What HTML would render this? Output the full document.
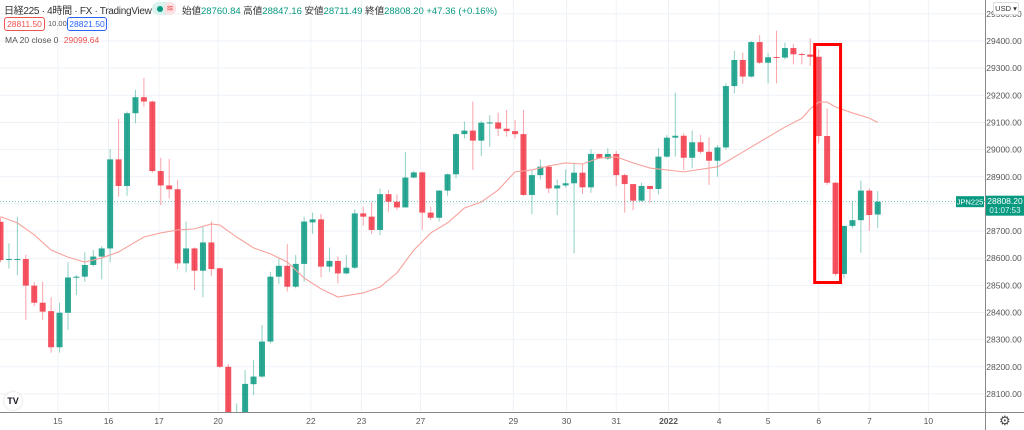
<!DOCTYPE html>
<html><head><meta charset="utf-8">
<style>
html,body{margin:0;padding:0;background:#fff;width:1024px;height:430px;overflow:hidden;font-family:"Liberation Sans","Noto Sans CJK JP",sans-serif;}
#wrap{position:relative;width:1024px;height:430px;}
svg{position:absolute;left:0;top:0;}
.hdr{position:absolute;white-space:nowrap;color:#131722;}
</style></head>
<body>
<div id="wrap">
<svg id="chart" width="1024" height="430"></svg>

<div class="hdr" style="left:4px;top:2px;font-size:10px;letter-spacing:-0.3px;color:#333">日経225 · 4時間 · FX · TradingView</div>
<div style="position:absolute;left:152px;top:2px;width:24px;height:13px;border-radius:7px;background:#d9f2ee"></div>
<div style="position:absolute;left:157px;top:6px;width:6px;height:6px;border-radius:3px;background:#089981"></div>
<div style="position:absolute;left:164px;top:2px;width:12px;height:13px;border-radius:6px;background:#fde2e4;color:#ef5350;font-size:9px;line-height:13px;text-align:center">≋</div>
<div class="hdr" style="left:182px;top:3px;font-size:9.5px;color:#333">始値<span style="color:#089981">28760.84</span> 高値<span style="color:#089981">28847.16</span> 安値<span style="color:#089981">28711.49</span> 終値<span style="color:#089981">28808.20 +47.36 (+0.16%)</span></div>
<div class="hdr" style="left:4px;top:17px;width:39px;height:12px;border:1px solid #ef5350;border-radius:3px;color:#ef5350;font-size:8.5px;line-height:12px;text-align:center">28811.50</div>
<div class="hdr" style="left:48px;top:19px;font-size:7.5px;color:#555">10.00</div>
<div class="hdr" style="left:67px;top:17px;width:38px;height:12px;border:1px solid #2962ff;border-radius:3px;color:#2962ff;font-size:8.5px;line-height:12px;text-align:center">28821.50</div>
<div class="hdr" style="left:5px;top:35px;font-size:8.5px;color:#555">MA 20 close 0 <span style="color:#ef5350;margin-left:3px">29099.64</span></div>
<div class="hdr" style="left:993px;top:2px;width:24px;height:11px;border:1px solid #ddd;border-radius:2px;background:#fff;font-size:7.5px;line-height:11px;text-align:center;color:#333">USD ▾</div>
<div class="hdr" style="left:4px;top:392px;width:18px;height:18px;border-radius:9px;background:#fff;box-shadow:0 0 2px #ccc;font-size:9px;font-weight:bold;line-height:18px;text-align:center">TV</div>
<div class="hdr" style="left:999px;top:413px;font-size:13px;color:#444">⚙</div>
</div>
<script>
const opens=[28734,28594,28596,28597,28499,28436,28405,28272,28399,28528,28532,28575,28606,28636,28964,28866,29134,29193,29177,28921,28868,28854,28581,28636,28554,28658,28563,28200,28000,28030,28136,28164,28293,28532,28572,28495,28579,28732,28743,28569,28590,
28544,28565,28765,28753,28704,28836,28808,28787,28897,28916,28768,28749,28849,28909,29057,29070,29033,29099,29100,29077,29068,29057,28833,28906,28937,28857,28868,28876,28915,28861,28984,28967,28984,28906,28873,28812,28866,28855,28974,
29044,29051,28970,29027,28992,28959,29008,29234,29330,29269,29396,29320,29341,29339,29374,29352,29350,29342,29050,28878,28542,28719,28740,28849,28760.84];
const highs=[28750,28655,28753,28612,28513,28513,28456,28436,28585,28538,28622,28630,28645,29002,29113,29140,29220,29264,29180,28970,28965,28888,28735,28640,28720,28735,28565,28210,28065,28188,28225,28354,28550,28600,28652,28612,28753,28768,28763,28639,28606,
28612,28780,28790,28806,28856,28851,28835,28992,28922,28919,28790,28851,28912,29062,29103,29177,29106,29127,29136,29146,29109,29146,28925,28964,28943,28890,28927,28952,28947,29001,28980,29005,28995,28912,28814,28878,28866,29005,29054,
29210,29060,29070,29054,29045,29017,29244,29364,29357,29400,29422,29355,29438,29394,29388,29357,29410,29369,29152,28880,28720,28808,28886,28857,28847.16];
const lows=[28585,28562,28538,28372,28424,28372,28252,28252,28336,28464,28513,28569,28522,28585,28827,28830,29097,29158,28915,28796,28820,28560,28548,28483,28456,28534,28195,27990,27950,28000,28096,28160,28286,28505,28477,28489,28513,28689,28529,28550,28507,
28540,28560,28720,28689,28685,28771,28777,28787,28894,28704,28741,28735,28830,28894,29041,28925,28976,29011,29050,29048,29041,28829,28762,28890,28839,28759,28860,28618,28836,28841,28965,28962,28866,28768,28777,28808,28804,28835,28970,
28974,28925,28931,28985,28870,28900,29000,29207,29242,29265,29315,29244,29244,29332,29314,29314,29308,29023,28870,28534,28526,28710,28620,28701,28711.49];
const closes=[28593,28597,28597,28499,28436,28403,28272,28399,28529,28532,28575,28606,28636,28964,28866,29134,29193,29177,28921,28868,28854,28581,28636,28554,28658,28560,28200,28000,28030,28137,28164,28293,28532,28572,28495,28579,28735,28743,28569,28590,28544,
28565,28765,28753,28704,28836,28808,28787,28897,28916,28768,28749,28849,28909,29057,29070,29033,29099,29100,29077,29068,29057,28833,28906,28937,28857,28868,28876,28915,28861,28984,28967,28984,28906,28873,28812,28866,28855,28974,29044,
29051,28970,29027,28992,28959,29008,29234,29330,29269,29396,29320,29340,29339,29374,29351,29350,29342,29050,28878,28542,28719,28740,28849,28759,28808.20];
const maIndex=[0,2,4,6,8,10,12,14,17,19,21,23,25,26,28,30,32,34,36,38,40,43,45,47,49,51,53,55,57,59,61,63,65,67,69,71,73,75,77,79,81,84,85,86,88,90,93,95,96,97,98,99,101,103,104];
const maValues=[28753,28730,28686,28630,28604,28586,28601,28623,28678,28693,28704,28708,28726,28722,28678,28638,28616,28586,28527,28487,28457,28472,28494,28546,28630,28693,28730,28785,28807,28851,28918,28925,28940,28951,28947,28969,28973,28951,28932,28925,28918,28932,28936,28954,28991,29028,29083,29115,29150,29175,29175,29157,29135,29116,29100];
const priceTicks=[29500,29400,29300,29200,29100,29000,28900,28800,28700,28600,28500,28400,28300,28200,28100];
const dayLabels=["15","16","17","20","22","23","27","29","30","31","2022","4","5","6","7","10"];
const dayPos=[6.8,12.8,18.8,25.8,36.8,42.8,49.8,60.8,67.1,73,79.2,85.2,91,97,103,110];

const NS="http://www.w3.org/2000/svg";
const svg=document.getElementById('chart');
const PL=0,PR=985,PT=0,PB=412;
const y=p=>41+(29400-p)*0.2715;
const x=i=>0.5+i*8.435;
function el(tag,attrs,parent){const e=document.createElementNS(NS,tag);for(const k in attrs)e.setAttribute(k,attrs[k]);(parent||svg).appendChild(e);return e;}
const defs=el('defs',{});
const cp=el('clipPath',{id:'plot'},defs);el('rect',{x:0,y:0,width:PR,height:PB},cp);
const grid=el('g',{});


priceTicks.forEach(p=>{
  const g=el('line',{x1:0,x2:PR,y1:y(p),y2:y(p),stroke:'#eef2f7','stroke-width':1},grid);
  
  
  const t=el('text',{x:1004,y:y(p)+3,'font-size':'8.5','text-anchor':'middle',fill:'#555','font-family':'Liberation Sans, sans-serif'});
  t.textContent=p.toFixed(2);
  
  
});
dayPos.forEach((d,k)=>{
  const gx=x(d);
  const g=el('line',{x1:gx,x2:gx,y1:0,y2:PB,stroke:'#eef2f7','stroke-width':1},grid);
  
  
  const t=el('text',{x:gx,y:424,'font-size':'8.5','text-anchor':'middle',fill:'#555','font-family':'Liberation Sans, sans-serif','font-weight':dayLabels[k]==='2022'?'bold':'normal'});
  t.textContent=dayLabels[k];
  
  
});
const ax1=el('line',{x1:PR+0.5,x2:PR+0.5,y1:0,y2:430,stroke:'#888','stroke-width':1});


const ax2=el('line',{x1:0,x2:1024,y1:PB+0.5,y2:PB+0.5,stroke:'#888','stroke-width':1});


const lp=closes[closes.length-1];
const pl=el('line',{x1:0,x2:PR,y1:y(lp),y2:y(lp),stroke:'#089981','stroke-width':1,'stroke-dasharray':'1,2',opacity:0.6});


const cg=el('g',{'clip-path':'url(#plot)'});


for(let i=0;i<opens.length;i++){
  const up=closes[i]>=opens[i];const col=up?'#089981':'#f23645';
  const cx=x(i);
  const w=el('line',{x1:cx,x2:cx,y1:y(highs[i]),y2:y(lows[i]),stroke:col,'stroke-width':1,opacity:0.45},cg);
  
  
  const top=y(Math.max(opens[i],closes[i])),bot=y(Math.min(opens[i],closes[i]));
  const b=el('rect',{x:cx-3,y:top,width:6,height:Math.max(1,bot-top),fill:col,opacity:0.85},cg);
  
  
}
const pts=maIndex.map((i,k)=>x(i)+','+y(maValues[k])).join(' ');
const ma=el('polyline',{points:pts,fill:'none',stroke:'#f7a39d','stroke-width':1.1,'clip-path':'url(#plot)'});


const hb=el('rect',{x:x(97)-4,y:44.5,width:x(99)-x(97)+9,height:238,fill:'none',stroke:'#ff0000','stroke-width':3});


const sl=el('rect',{x:956,y:y(lp)-5.5,width:28,height:11,fill:'#089981'});


const st=el('text',{x:970,y:y(lp)+3,'font-size':'7.5','text-anchor':'middle',fill:'#fff','font-family':'Liberation Sans, sans-serif'});st.textContent='JPN225';


const pb=el('rect',{x:986,y:y(lp)-6,width:38,height:20,fill:'#089981'});


const pt1=el('text',{x:1005,y:y(lp)+2.5,'font-size':'8.5','text-anchor':'middle',fill:'#fff','font-family':'Liberation Sans, sans-serif'});pt1.textContent=lp.toFixed(2);


const pt2=el('text',{x:1005,y:y(lp)+11.5,'font-size':'8','text-anchor':'middle',fill:'#d8f3ee','font-family':'Liberation Sans, sans-serif'});pt2.textContent='01:07:53';


</script>
</body></html>
